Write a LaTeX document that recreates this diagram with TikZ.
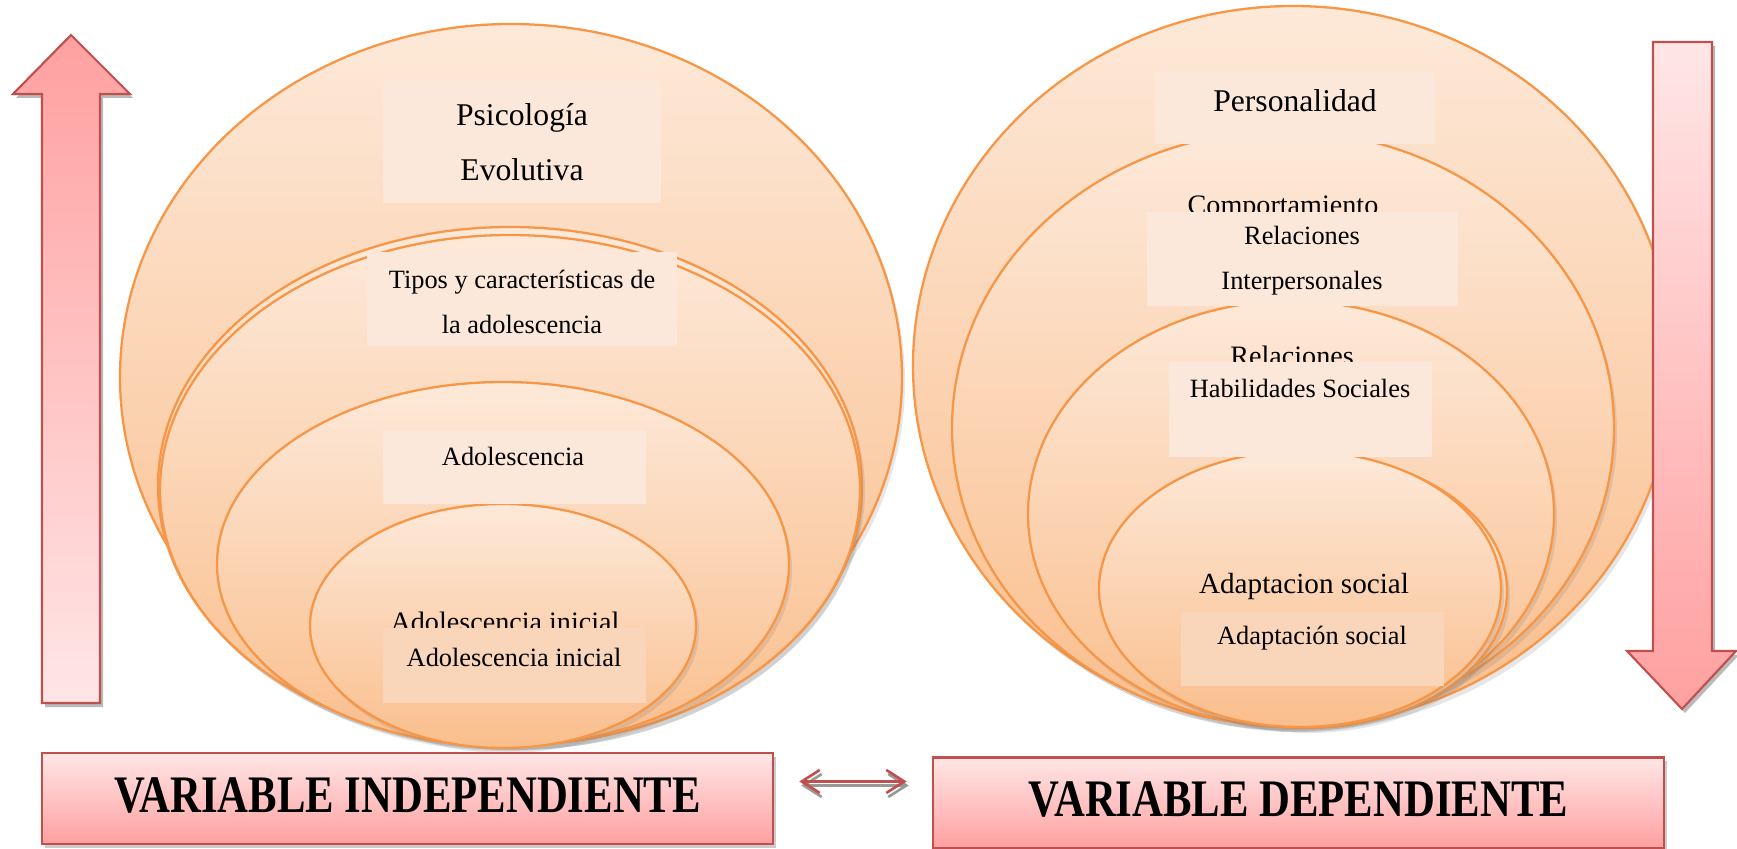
\documentclass[tikz,border=0pt]{standalone}
\usepackage{fontspec}
\setmainfont{Liberation Serif}
\usetikzlibrary{arrows.meta,shadows}

\definecolor{ringline}{RGB}{247,150,70}
\definecolor{ringtop}{RGB}{253,233,217}
\definecolor{ringbot}{RGB}{250,190,140}
\definecolor{tagfill}{RGB}{252,232,218}
\definecolor{tagfilldark}{RGB}{249,213,186}
\definecolor{arrowline}{RGB}{192,80,77}
\definecolor{arrowdark}{RGB}{255,160,160}
\definecolor{arrowlight}{RGB}{255,230,230}

\begin{document}
\begin{tikzpicture}[x=0.01cm, y=-0.01cm,
	ring/.style={draw=ringline, line width=0.65pt, top color=ringtop, bottom color=ringbot,
		drop shadow={shadow xshift=0.03cm, shadow yshift=-0.05cm, opacity=0.2}},
	tag/.style={fill=tagfill},
	tagdark/.style={fill=tagfilldark},
	txt/.style={font=\fontsize{7.5}{12.8}\selectfont, align=center, inner sep=0pt},
	txtbig/.style={font=\fontsize{9}{15.7}\selectfont, align=center, inner sep=0pt},
	txthid/.style={font=\fontsize{8}{9.6}\selectfont, inner sep=0pt, anchor=base},
	bigarrow/.style={draw=arrowline, line width=0.6pt},
	arrowshadow/.style={fill=black!45, opacity=0.6},
	varbox/.style={draw=arrowline, line width=0.6pt, top color=arrowlight, bottom color=arrowdark,
		minimum width=7.31cm, minimum height=0.91cm, inner sep=0pt,
		font=\fontsize{15}{17}\selectfont\bfseries,
		drop shadow={shadow xshift=0.03cm, shadow yshift=-0.04cm, opacity=0.4}},
	dblarrow/.style={<->, >={Straight Barb[length=1.8mm,width=2.3mm]}, draw=arrowline, line width=0.75pt},
	dblshadow/.style={<->, >={Straight Barb[length=1.8mm,width=2.3mm]}, draw=black!40, line width=0.75pt}]
	
	\useasboundingbox (0,0) rectangle (1737,849);
	
	% left arrow (up)
	\fill [arrowshadow, xshift=0.03cm, yshift=-0.04cm] (71,35) -- (130,94) -- (100,94) -- (100,703) -- (42,703) -- (42,94) -- (13,94) -- cycle;
	\draw [bigarrow, top color=arrowdark, bottom color=arrowlight] (71,35) -- (130,94) -- (100,94) -- (100,703) -- (42,703) -- (42,94) -- (13,94) -- cycle;
	
	% independent rings
	\draw [ring] (511,377) ellipse [x radius=391, y radius=353];
	\draw [ring] (510,486) ellipse [x radius=352, y radius=259];
	\draw [ring] (510,490) ellipse [x radius=350, y radius=255];
	\draw [ring] (503,564) ellipse [x radius=286, y radius=182];
	\draw [ring] (503,626) ellipse [x radius=193, y radius=122];
	
	% dependent rings
	\draw [ring] (1293,366) ellipse [x radius=380, y radius=360];
	\draw [ring] (1283,428) ellipse [x radius=331, y radius=297];
	\draw [ring] (1291,514) ellipse [x radius=263, y radius=213];
	\draw [ring] (1306,591) ellipse [x radius=201, y radius=137];
	\draw [ring] (1300,589) ellipse [x radius=201, y radius=138];
	
	% right arrow (down)
	\fill [arrowshadow, xshift=0.03cm, yshift=-0.04cm] (1653,42) -- (1712,42) -- (1712,651) -- (1736,651) -- (1682,709) -- (1627,651) -- (1653,651) -- cycle;
	\draw [bigarrow, top color=arrowlight, bottom color=arrowdark] (1653,42) -- (1712,42) -- (1712,651) -- (1736,651) -- (1682,709) -- (1627,651) -- (1653,651) -- cycle;
	
	% psicologia evolutiva
	\fill [tag] (383,82) rectangle (661,203);
	\node [txtbig] (psico) at (522,142) {Psicología\\Evolutiva};
	
	% tipos
	\fill [tag] (367,252) rectangle (677,346);
	\node [txt] (tipos) at (522,302) {Tipos y características de\\la adolescencia};
	
	% adolescencia
	\fill [tag] (383,430) rectangle (646,504);
	\node [txt] (adol) at (513,456) {Adolescencia};
	
	% adolescencia inicial
	\node [txthid] (inicialB) at (505,631) {Adolescencia inicial};
	\fill [tagdark] (383,628) rectangle (646,703);
	\node [txt] (inicial) at (514,657) {Adolescencia inicial};
	
	% personalidad
	\fill [tag] (1155,72) rectangle (1435,144);
	\node [txtbig] (perso) at (1295,101) {Personalidad};
	
	% comportamiento / relaciones interpersonales
	\node [txthid] (comport) at (1283,215) {Comportamiento};
	\fill [tag] (1147,212) rectangle (1458,306);
	\node [txt] (interp) at (1302,261) {Relaciones\\Interpersonales};
	
	% habilidades sociales
	\node [txthid] (relB) at (1292,366) {Relaciones};
	\fill [tag] (1169,362) rectangle (1432,457);
	\node [txt] (habil) at (1300,388) {Habilidades Sociales};
	
	% adaptacion social
	\node [txt, font=\fontsize{8.3}{10}\selectfont] (adaptA) at (1304,586) {Adaptacion social};
	\fill [tagdark] (1181,612) rectangle (1444,686);
	\node [txt] (adapt) at (1312,638) {Adaptación social};
	
	% variables
	\node [varbox] (indep) at (407.5,798.5) {\raisebox{2pt}{\scalebox{0.81}[1]{VARIABLE INDEPENDIENTE}}};
	\node [varbox] (dep) at (1298.5,803) {\raisebox{2pt}{\scalebox{0.81}[1]{VARIABLE DEPENDIENTE}}};
	
	% link
	\coordinate (linkL) at ([xshift=0.25cm, yshift=0.17cm]indep.east);
	\coordinate (linkR) at ([xshift=-0.25cm]linkL -| dep.west);
	\draw [dblshadow] ([shift={(2,4)}]linkL) -- ([shift={(2,4)}]linkR);
	\draw [dblarrow] (linkL) -- (linkR);
	
\end{tikzpicture}
\end{document}
